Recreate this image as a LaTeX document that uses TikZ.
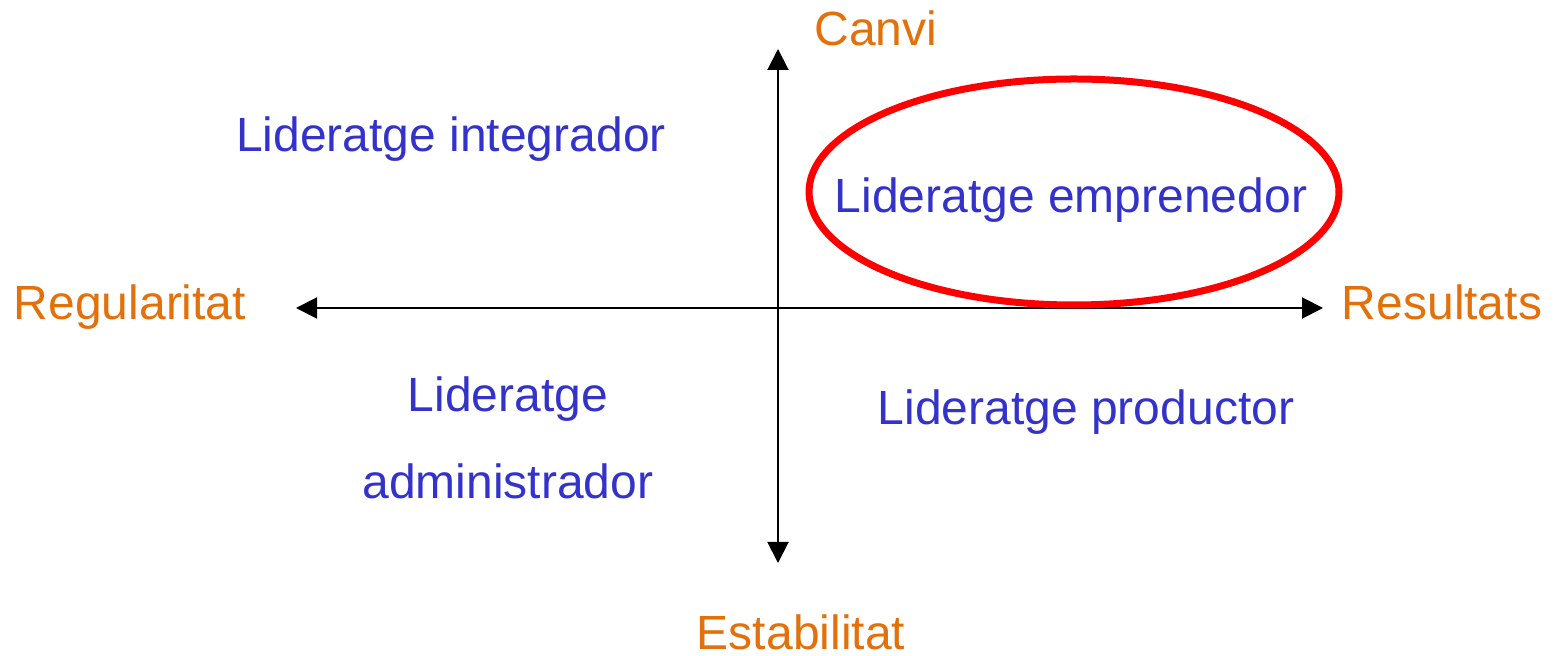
\documentclass[tikz,border=0pt]{standalone}
\usepackage{fontspec}
\setmainfont{Liberation Sans}
\usetikzlibrary{arrows.meta}
\definecolor{lblue}{RGB}{51,51,204}
\definecolor{lorange}{RGB}{228,112,10}
\begin{document}
\begin{tikzpicture}[x=0.5pt,y=-0.5pt,
  axislabel/.style={text=lorange,font=\fontsize{24}{28}\selectfont,inner sep=0pt,anchor=base},
  styletext/.style={text=lblue,font=\fontsize{24}{43.5}\selectfont,inner sep=0pt,anchor=base,align=center},
  axis/.style={line width=1pt,{Triangle[length=10.5pt,width=10.5pt]}-{Triangle[length=10.5pt,width=10.5pt]}}]
\useasboundingbox (0,0) rectangle (1554,656);
\coordinate (top) at (778,49);
\coordinate (bottom) at (778,563);
\coordinate (left) at (296,308);
\coordinate (right) at (1323,308);
\draw[axis] (bottom) -- (top);
\draw[axis] (left) -- (right);
\node[axislabel] (canvi) at (876,46) {Canvi};
\node[axislabel] (estab) at (801,650) {Estabilitat};
\node[axislabel] (regul) at (130,320) {Regularitat};
\node[axislabel] (resul) at (1442,320) {Resultats};
\node[styletext] (integ) at (451,152) {Lideratge integrador};
\node[styletext] (empren) at (1071,213) {Lideratge emprenedor};
\node[styletext] (produc) at (1086,425) {Lideratge productor};
\node[styletext,anchor=north] (admin) at (508,376) {Lideratge\\administrador};
\draw[red,line width=3.5pt] (1074,192) ellipse [x radius=265, y radius=113];
\end{tikzpicture}
\end{document}
